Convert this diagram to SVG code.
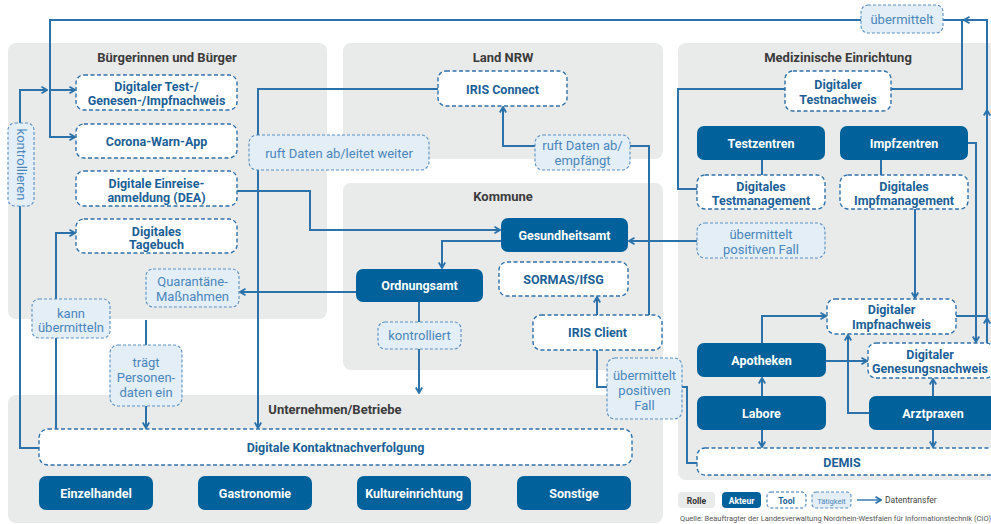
<svg xmlns="http://www.w3.org/2000/svg" width="991" height="524" viewBox="0 0 991 524">
<defs>
<marker id="arr" viewBox="0 0 8 8" refX="7" refY="4" markerWidth="8" markerHeight="8" markerUnits="userSpaceOnUse" orient="auto">
<path d="M1.5,0.8 L7,4 L1.5,7.2" fill="none" stroke="#2b72aa" stroke-width="1.8"/>
</marker>
<style>
text{font-family:Roboto,"Liberation Sans",sans-serif;text-anchor:middle}
.panel{fill:#e9eaea}
.pt{font-size:13px;font-weight:bold;fill:#3b3b3b}
.tool rect{fill:#fff;stroke:#2f72aa;stroke-width:1.4;stroke-dasharray:4 2.5}
.tool text{font-size:12.5px;font-weight:bold;fill:#1c5f96}
.act rect{fill:#00619b}
.act text{font-size:12.5px;font-weight:bold;fill:#fff}
.tat rect{fill:#e3eef7;stroke:#5b8fc0;stroke-width:1.1;stroke-dasharray:3 2}
.tat text{font-size:13px;fill:#4b86ba}
#connectors path{fill:none;stroke:#2b72aa;stroke-width:2}
.m{marker-end:url(#arr)}
</style>
</defs>
<rect width="991" height="524" fill="#fff"/>

<g id="panels">
<g id="p_buerger"><rect class="panel" x="8" y="43" width="319" height="276" rx="8"/><text class="pt" x="167" y="62">Bürgerinnen und Bürger</text></g>
<g id="p_land"><rect class="panel" x="343" y="43" width="320" height="116" rx="8"/><text class="pt" x="503" y="62">Land NRW</text></g>
<g id="p_kommune"><rect class="panel" x="343" y="183" width="320" height="187" rx="8"/><text class="pt" x="503" y="201">Kommune</text></g>
<g id="p_med"><rect class="panel" x="678" y="43" width="330" height="437" rx="8"/><text class="pt" x="838" y="62">Medizinische Einrichtung</text></g>
<g id="p_unt"><rect class="panel" x="8" y="395" width="655" height="128" rx="8"/><text class="pt" x="335" y="414">Unternehmen/Betriebe</text></g>
</g>

<g id="connectors">
<path class="m" d="M987,343 L987,318"/>
<path class="m" d="M987,318 L987,110"/>
<path class="m" d="M987,110 L987,20 L964,20"/>
<path d="M964,20 L943,20"/>
<path class="m" d="M861,20 L50,20 L50,137 L75,137"/>
<path class="m" d="M50,90 L75,90"/>
<path d="M956,316 L987,316"/>
<path d="M891,89 L962,89 L962,20"/>
<path d="M785,89 L678,89 L678,189 L697,189"/>
<path class="m" d="M968,143 L976,143 L976,342"/>
<path d="M762,160 L762,175"/>
<path d="M881,160 L881,175"/>
<path class="m" d="M915,209 L915,298"/>
<path class="m" d="M697,241 L629,241"/>
<path class="m" d="M237,191 L310,191 L310,230 L500,230"/>
<path class="m" d="M501,241 L442,241 L442,268"/>
<path class="m" d="M356,292 L240,292"/>
<path d="M419,302 L419,322"/>
<path class="m" d="M419,349 L419,393"/>
<path class="m" d="M438,89 L258,89 L258,428"/>
<path class="m" d="M649,315 L649,146 L503,146 L503,107"/>
<path class="m" d="M597,315 L597,297"/>
<path d="M597,350 L597,387 L687,387 L687,463 L697,463"/>
<path class="m" d="M762,343 L762,316 L826,316"/>
<path class="m" d="M826,361 L867,361"/>
<path class="m" d="M762,396 L762,378"/>
<path class="m" d="M762,430 L762,447"/>
<path class="m" d="M869,413 L848,413 L848,335"/>
<path class="m" d="M933,396 L933,379"/>
<path class="m" d="M933,430 L933,447"/>
<path class="m" d="M56,429 L56,233 L75,233"/>
<path class="m" d="M39,448 L20,448 L20,90 L47,90"/>
<path class="m" d="M146,320 L146,428"/>
</g>

<g id="n_test" class="tool"><rect x="76" y="75" width="161" height="35" rx="8"/><text x="156.5" y="90.5">Digitaler Test-/</text><text x="156.5" y="104.5">Genesen-/Impfnachweis</text></g>
<g id="n_cwa" class="tool"><rect x="76" y="124" width="161" height="34" rx="8"/><text x="156.5" y="145.5">Corona-Warn-App</text></g>
<g id="n_dea" class="tool"><rect x="76" y="171" width="161" height="35" rx="8"/><text x="156.5" y="187.5">Digitale Einreise-</text><text x="156.5" y="201.5">anmeldung (DEA)</text></g>
<g id="n_tagebuch" class="tool"><rect x="76" y="219" width="161" height="34" rx="8"/><text x="156.5" y="235.5">Digitales</text><text x="156.5" y="249">Tagebuch</text></g>
<g id="n_quar" class="tat"><rect x="146" y="269" width="93" height="38" rx="7"/><text x="192.5" y="285.5">Quarantäne-</text><text x="192.5" y="300.5">Maßnahmen</text></g>
<g id="n_kann" class="tat"><rect x="32" y="299" width="78" height="39" rx="7"/><text x="71" y="317.5">kann</text><text x="71" y="331.5">übermitteln</text></g>
<g id="n_kontrollieren" class="tat"><rect x="8" y="123" width="26" height="83" rx="7"/><text x="0" y="0" transform="translate(17,164.5) rotate(90)">kontrollieren</text></g>
<g id="n_ruft1" class="tat"><rect x="249" y="135" width="180" height="35" rx="8"/><text x="339" y="157.5">ruft Daten ab/leitet weiter</text></g>
<g id="n_irisconnect" class="tool"><rect x="438" y="71" width="129" height="35" rx="8"/><text x="502.5" y="93.5">IRIS Connect</text></g>
<g id="n_ruft2" class="tat"><rect x="535" y="135" width="95" height="35" rx="8"/><text x="582.5" y="150">ruft Daten ab/</text><text x="582.5" y="165">empfängt</text></g>
<g id="n_gesund" class="act"><rect x="501" y="218" width="127" height="34" rx="7"/><text x="564.5" y="239.5">Gesundheitsamt</text></g>
<g id="n_ordnung" class="act"><rect x="356" y="269" width="127" height="33" rx="7"/><text x="419.5" y="290">Ordnungsamt</text></g>
<g id="n_sormas" class="tool"><rect x="499" y="262" width="129" height="34" rx="8"/><text x="563.5" y="283.5">SORMAS/IfSG</text></g>
<g id="n_irisclient" class="tool"><rect x="533" y="315" width="129" height="35" rx="8"/><text x="597.5" y="337">IRIS Client</text></g>
<g id="n_kontrolliert" class="tat"><rect x="378" y="322" width="83" height="27" rx="7"/><text x="419.5" y="340">kontrolliert</text></g>
<g id="n_uebtop" class="tat"><rect x="861" y="5" width="82" height="28" rx="7"/><text x="902" y="24">übermittelt</text></g>
<g id="n_testnach" class="tool"><rect x="785" y="71" width="106" height="40" rx="8"/><text x="838" y="88.5">Digitaler</text><text x="838" y="103.5">Testnachweis</text></g>
<g id="n_testz" class="act"><rect x="697" y="126" width="128" height="34" rx="7"/><text x="761" y="147.5">Testzentren</text></g>
<g id="n_impfz" class="act"><rect x="840" y="126" width="128" height="34" rx="7"/><text x="904" y="147.5">Impfzentren</text></g>
<g id="n_testm" class="tool"><rect x="697" y="175" width="128" height="34" rx="8"/><text x="761" y="190.5">Digitales</text><text x="761" y="204.5">Testmanagement</text></g>
<g id="n_impfm" class="tool"><rect x="840" y="175" width="128" height="34" rx="8"/><text x="904" y="190.5">Digitales</text><text x="904" y="204.5">Impfmanagement</text></g>
<g id="n_uebpos" class="tat"><rect x="697" y="223" width="128" height="35" rx="8"/><text x="761" y="238.5">übermittelt</text><text x="761" y="253.5">positiven Fall</text></g>
<g id="n_impfnach" class="tool"><rect x="827" y="299" width="129" height="35" rx="8"/><text x="891.5" y="313.5">Digitaler</text><text x="891.5" y="328.5">Impfnachweis</text></g>
<g id="n_genes" class="tool"><rect x="868" y="343" width="126" height="35" rx="8"/><text x="930" y="358.5">Digitaler</text><text x="930" y="372.5">Genesungsnachweis</text></g>
<g id="n_apoth" class="act"><rect x="697" y="343" width="129" height="34" rx="7"/><text x="761.5" y="364.5">Apotheken</text></g>
<g id="n_labore" class="act"><rect x="697" y="396" width="129" height="34" rx="7"/><text x="761.5" y="417.5">Labore</text></g>
<g id="n_arzt" class="act"><rect x="869" y="396" width="128" height="34" rx="7"/><text x="933" y="417.5">Arztpraxen</text></g>
<g id="n_demis" class="tool"><rect x="697" y="448" width="310" height="27" rx="8"/><text x="842" y="466.5">DEMIS</text></g>
<g id="n_uebpos2" class="tat"><rect x="607" y="358" width="75" height="61" rx="8"/><text x="644.5" y="379.5">übermittelt</text><text x="644.5" y="394.5">positiven</text><text x="644.5" y="409.5">Fall</text></g>
<g id="n_traegt" class="tat"><rect x="110" y="345" width="72" height="61" rx="8"/><text x="146" y="366.5">trägt</text><text x="146" y="381.5">Personen-</text><text x="146" y="397">daten ein</text></g>
<g id="n_kontakt" class="tool"><rect x="39" y="429" width="593" height="36" rx="9"/><text x="335.5" y="452">Digitale Kontaktnachverfolgung</text></g>
<g id="n_einzel" class="act"><rect x="39" y="476" width="114" height="34" rx="7"/><text x="96" y="497.5">Einzelhandel</text></g>
<g id="n_gastro" class="act"><rect x="198" y="476" width="114" height="34" rx="7"/><text x="255" y="497.5">Gastronomie</text></g>
<g id="n_kultur" class="act"><rect x="357" y="476" width="114" height="34" rx="7"/><text x="414" y="497.5">Kultureinrichtung</text></g>
<g id="n_sonst" class="act"><rect x="517" y="476" width="114" height="34" rx="7"/><text x="574" y="497.5">Sonstige</text></g>

<g id="legend">
<rect class="panel" x="678" y="492" width="37" height="16" rx="4"/><text x="696.5" y="503.5" style="font-size:8.5px;font-weight:bold;fill:#333">Rolle</text>
<g class="act"><rect x="722" y="492" width="39" height="16" rx="4"/><text x="741.5" y="503.5" style="font-size:8.5px">Akteur</text></g>
<g class="tool"><rect x="767" y="492" width="39" height="16" rx="4" style="stroke-width:1;stroke-dasharray:3 2"/><text x="786.5" y="503.5" style="font-size:8.5px">Tool</text></g>
<g class="tat"><rect x="812" y="492" width="39" height="16" rx="4"/><text x="831.5" y="503.5" style="font-size:7.5px">Tätigkeit</text></g>
<path d="M857,500 L881,500" fill="none" stroke="#2b72aa" stroke-width="1.4" marker-end="url(#arr)"/>
<text x="885" y="503" style="font-size:8.5px;fill:#444;text-anchor:start">Datentransfer</text>
<text x="680" y="521" style="font-size:7.5px;fill:#555;text-anchor:start">Quelle: Beauftragter der Landesverwaltung Nordrhein-Westfalen für Informationstechnik (CIO)</text>
</g>
</svg>
